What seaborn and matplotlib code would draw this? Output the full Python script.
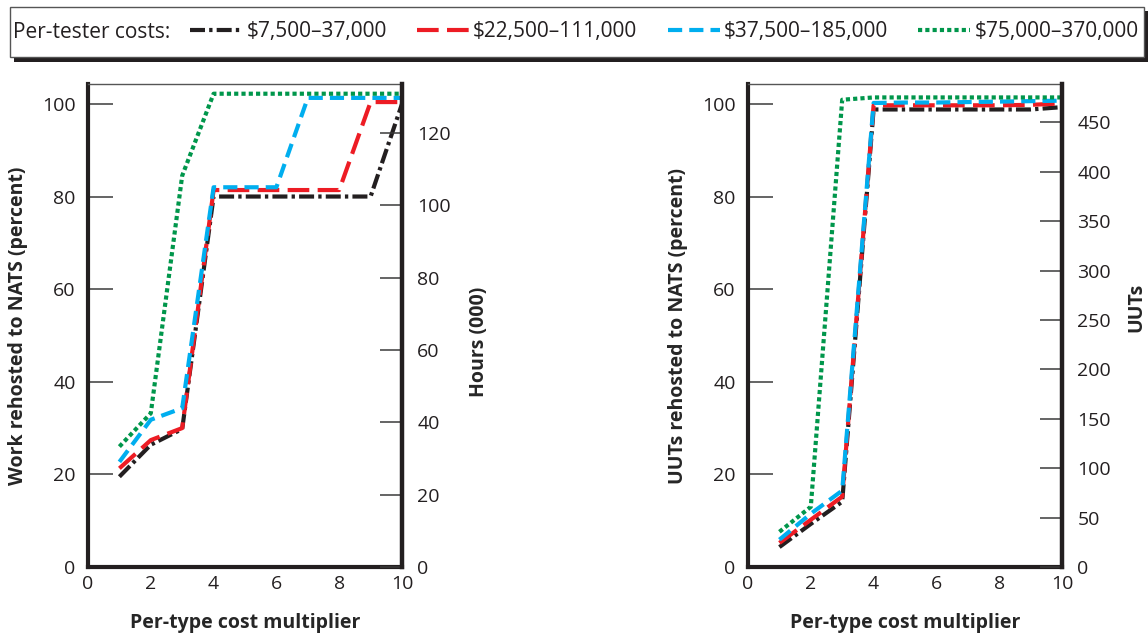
import numpy as np
import pandas as pd
import matplotlib
matplotlib.use("Agg")
import matplotlib.pyplot as plt
from matplotlib.lines import Line2D
from matplotlib.patches import Rectangle
import seaborn as sns

# ---------------- data ----------------
multiplier = [1, 2, 3, 4, 5, 6, 7, 8, 9, 10]
cost_labels = ["$7,500\u201337,000", "$22,500\u2013111,000",
               "$37,500\u2013185,000", "$75,000\u2013370,000"]

# Left panel: work rehosted to NATS (percent)
work_c1 = [19.5, 26.4, 29.8, 80.0, 80.0, 80.0, 80.0, 80.0, 80.0, 100.0]
work_c2 = [21.3, 27.4, 30.0, 81.4, 81.4, 81.4, 81.4, 81.4, 100.4, 100.4]
work_c3 = [22.7, 31.8, 34.3, 82.0, 82.0, 82.0, 101.3, 101.3, 101.3, 101.3]
work_c4 = [26.0, 33.2, 84.5, 102.2, 102.2, 102.2, 102.2, 102.2, 102.2, 102.2]

# Right panel: UUTs rehosted to NATS (percent)
uut_c1 = [4.3, 9.3, 14.1, 98.8, 98.8, 98.8, 98.8, 98.8, 98.8, 99.3]
uut_c2 = [5.2, 10.2, 15.2, 99.7, 99.7, 99.7, 99.7, 99.7, 99.8, 100.1]
uut_c3 = [5.9, 11.5, 16.5, 100.2, 100.3, 100.3, 100.4, 100.5, 100.6, 100.7]
uut_c4 = [7.6, 13.0, 100.9, 101.4, 101.4, 101.4, 101.4, 101.4, 101.4, 101.4]

pct_ticks = [0, 20, 40, 60, 80, 100]
hours_ticks = [0, 20, 40, 60, 80, 100, 120]
uut_ticks = [0, 50, 100, 150, 200, 250, 300, 350, 400, 450]
x_ticks = [0, 2, 4, 6, 8, 10]

PCT_MAX = 104.3
HOURS_PER_100PCT = 128.1
UUTS_PER_100PCT = 468.6

# ---------------- style ----------------
sns.set_theme(style="white")
plt.rcParams["font.family"] = ["Open Sans", "DejaVu Sans"]
INK = "#231f20"
plt.rcParams["text.color"] = INK

colors = {cost_labels[0]: "#231f20", cost_labels[1]: "#ed1c24",
          cost_labels[2]: "#00aeef", cost_labels[3]: "#00964b"}
dashes = {cost_labels[0]: (3.6, 1.0, 0.8, 1.0),
          cost_labels[1]: (5.2, 2.0),
          cost_labels[2]: (3.4, 1.7),
          cost_labels[3]: (1.0, 0.75)}
LW = 3.0
LABEL_FS = 14


def long_df(series):
    rows = []
    for lab, vals in zip(cost_labels, series):
        for m, v in zip(multiplier, vals):
            rows.append({"mult": m, "val": v, "cost": lab})
    return pd.DataFrame(rows)


df_left = long_df([work_c1, work_c2, work_c3, work_c4])
df_right = long_df([uut_c1, uut_c2, uut_c3, uut_c4])

W, H = 1148, 637
fig = plt.figure(figsize=(W / 100, H / 100), dpi=100)
fig.patch.set_facecolor("white")


def make_panel(left_px, df, ylabel, rlabel, rmax, rticks, rlabel_x, rlabel_y):
    ax = fig.add_axes([left_px / W, 1 - 567 / H, 314 / W, 483 / H])
    sns.lineplot(data=df, x="mult", y="val", hue="cost", style="cost",
                 palette=colors, dashes=dashes, linewidth=LW, ax=ax,
                 legend=False, sort=False)
    ax.set_xlim(0, 10)
    ax.set_ylim(0, PCT_MAX)
    ax.set_xticks(x_ticks)
    ax.set_yticks(pct_ticks)
    ax.tick_params(axis="y", direction="in", length=18, width=1.1,
                   color="#3a3a3a", labelsize=14, pad=9, labelcolor=INK)
    ax.tick_params(axis="x", direction="in", length=16, width=1.1,
                   color="#3a3a3a", labelsize=14, pad=6, labelcolor=INK)
    for s in ["left", "bottom"]:
        ax.spines[s].set_linewidth(3.0)
        ax.spines[s].set_color(INK)
    ax.spines["top"].set_linewidth(1.0)
    ax.spines["top"].set_color("#555555")
    ax.spines["right"].set_visible(False)
    ax.set_xlabel("Per-type cost multiplier", fontsize=LABEL_FS, fontweight="bold")
    ax.set_ylabel(ylabel, fontsize=LABEL_FS, fontweight="bold")
    ax.xaxis.set_label_coords(0.5, -0.095)
    ax.yaxis.set_label_coords(-0.191, 0.5)

    ax2 = ax.twinx()
    ax2.set_ylim(0, PCT_MAX / 100 * rmax)
    ax2.set_yticks(rticks)
    ax2.tick_params(axis="y", direction="in", length=16, width=1.1,
                    color="#3a3a3a", labelsize=14, pad=11, labelcolor=INK)
    for s in ["left", "top", "bottom"]:
        ax2.spines[s].set_visible(False)
    ax2.spines["right"].set_linewidth(3.2)
    ax2.spines["right"].set_color(INK)
    ax2.set_ylabel(rlabel, fontsize=LABEL_FS, fontweight="bold", rotation=90)
    ax2.yaxis.set_label_coords(rlabel_x, rlabel_y)
    ax2.grid(False)
    ax.grid(False)
    return ax, ax2


make_panel(88, df_left, "Work rehosted to NATS (percent)", "Hours (000)",
           HOURS_PER_100PCT, hours_ticks, 1.213, 0.466)
make_panel(748, df_right, "UUTs rehosted to NATS (percent)", "UUTs",
           UUTS_PER_100PCT, uut_ticks, 1.204, 0.538)

# ---------------- legend box ----------------
def fx(px):
    return px / W


def fy(py):
    return 1 - py / H


shadow = Rectangle((fx(14), fy(62)), fx(1148) - fx(14), fy(11) - fy(62),
                   transform=fig.transFigure, facecolor=INK, edgecolor="none",
                   zorder=1)
box = Rectangle((fx(10), fy(57)), fx(1144) - fx(10), fy(7) - fy(57),
                transform=fig.transFigure, facecolor="white",
                edgecolor="#555555", linewidth=1.0, zorder=2)
fig.add_artist(shadow)
fig.add_artist(box)
fig.text(fx(13), fy(32), "Per-tester costs:", fontsize=15, va="center",
         ha="left", zorder=3)

handles = [Line2D([], [], color=colors[c], linewidth=LW, dashes=dashes[c])
           for c in cost_labels]
leg = fig.legend(handles, cost_labels, loc="center left",
                 bbox_to_anchor=(fx(190), fy(32)), ncol=4, frameon=False,
                 fontsize=15, handlelength=2.5, handletextpad=0.2,
                 columnspacing=1.45, borderaxespad=0, borderpad=0)
leg.set_zorder(4)

fig.savefig("out.png", dpi=100, facecolor="white")
